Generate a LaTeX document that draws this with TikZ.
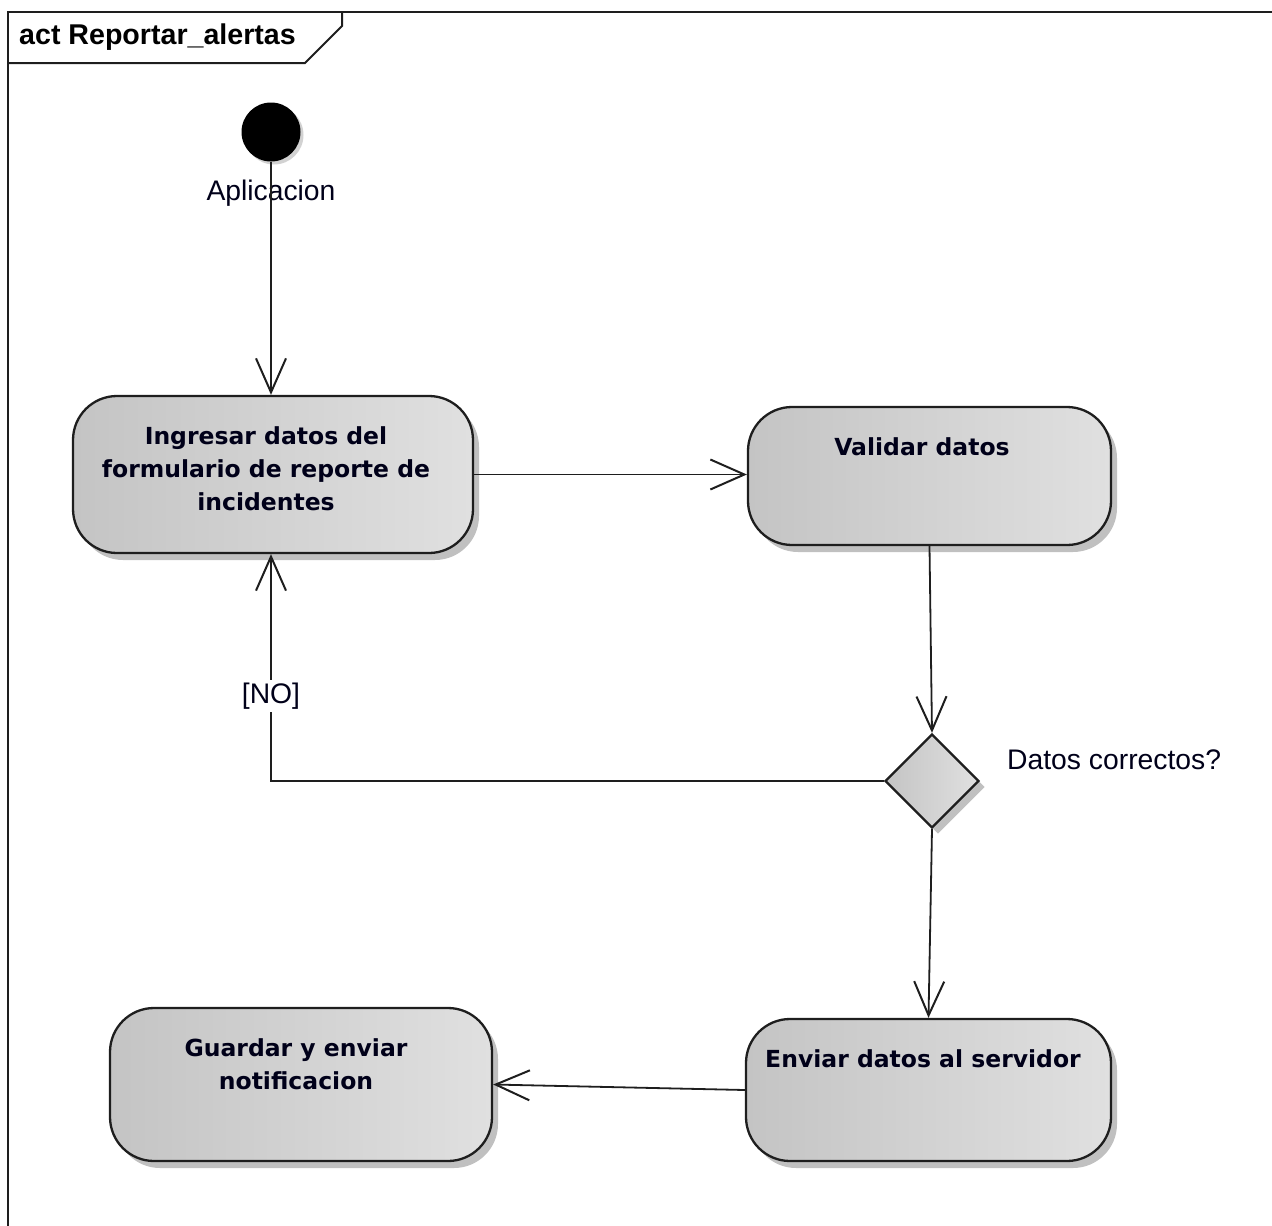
\documentclass[tikz,border=0pt]{standalone}
\usepackage{fontspec}
\setmainfont{Liberation Sans}
\newfontfamily\stagefont{DejaVu Sans}
\usetikzlibrary{arrows.meta,shapes.geometric,shadows}

\definecolor{stageL}{RGB}{196,196,196}
\definecolor{stageR}{RGB}{224,224,224}
\definecolor{shadowgray}{RGB}{165,165,165}
\definecolor{inkline}{RGB}{30,30,30}

\begin{document}
\begin{tikzpicture}[x=1pt,y=-1pt,
  flow/.style={draw=inkline, line width=1.8pt,
    -{Straight Barb[length=34pt,width=30pt,line width=2pt]}},
  stage/.style={draw=inkline, line width=2.3pt, rounded corners=44pt,
    left color=stageL, right color=stageR, inner sep=0pt,
    drop shadow={shadow xshift=6pt, shadow yshift=-7pt,
      fill=shadowgray, opacity=0.7}},
  decision/.style={diamond, draw=inkline, line width=2.3pt,
    left color=stageL, right color=stageR, inner sep=0pt,
    minimum width=94pt, minimum height=94pt,
    drop shadow={shadow xshift=6pt, shadow yshift=-6pt,
      fill=shadowgray, opacity=0.7}},
  startnode/.style={circle, fill=black, inner sep=0pt, minimum size=59pt,
    drop shadow={shadow xshift=3pt, shadow yshift=-3pt,
      fill=shadowgray, opacity=0.5}},
  stagetext/.style={font=\stagefont\bfseries\fontsize{23.5}{33}\selectfont,
    align=center, inner sep=0pt, text=black!90!blue},
  lbl/.style={font=\fontsize{28.3}{33}\selectfont, inner sep=1pt,
    text=black!90!blue},
  frame/.style={draw=inkline, line width=2pt}
]
\useasboundingbox (0,0) rectangle (1272,1226);

% diagram frame and name tab
\draw[frame] (1290,12) -- (8,12) -- (8,1240);
\draw[frame] (342,12) -- (342,26) -- (305,63) -- (8,63);
\node[font=\bfseries\fontsize{28.6}{33}\selectfont, anchor=west, inner sep=0pt]
  (title) at (19,37) {act Reportar\_alertas};

% activity nodes
\node[startnode] (start) at (271,132) {};
\node[stage, minimum width=400pt, minimum height=157pt] (ing) at (273,474.5) {};
\node[stage, minimum width=363pt, minimum height=138pt] (val) at (929.5,476) {};
\node[decision] (dec) at (932,781) {};
\node[stage, minimum width=365pt, minimum height=142pt] (env) at (928.5,1090) {};
\node[stage, minimum width=382pt, minimum height=153pt] (gua) at (301,1084.5) {};

% action texts
\node[stagetext] (ing-t) at (266,469) {Ingresar datos del\\formulario de reporte de\\incidentes};
\node[stagetext] (val-t) at (922,447) {Validar datos};
\node[stagetext] (env-t) at (923,1059) {Enviar datos al servidor};
\node[stagetext] (gua-t) at (296,1064.5) {Guardar y enviar\\notificacion};

% labels
\node[lbl] (app) at (271,193) {Aplicacion};
\node[lbl, anchor=west] (cond) at (1006,760) {Datos correctos?};

% control flows
\draw[flow] (start.south) -- (start.south |- ing.north);
\draw[flow] (ing.east) -- (ing.east -| val.west);
\draw[flow] (val.south) -- (dec.north);
\draw[flow] (dec.south) -- (env.north);
\draw[flow] (env.west) -- (gua.east);
\draw[flow] (dec.west) -- (dec.west -| start) -- (start |- ing.south);
\node[lbl, fill=white, inner sep=3pt] (no) at (271,696) {[NO]};
\end{tikzpicture}
\end{document}
